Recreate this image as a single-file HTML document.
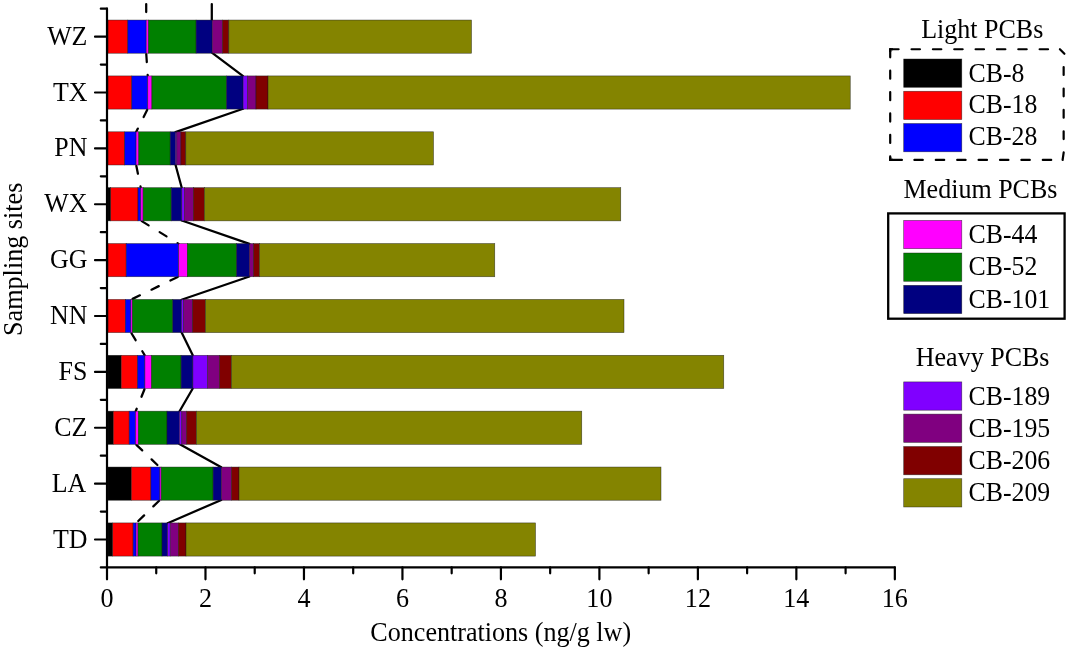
<!DOCTYPE html>
<html lang="en"><head><meta charset="utf-8"><title>PCB concentrations by sampling site</title>
<style>html,body{margin:0;padding:0;background:#fff}body{width:1068px;height:650px;overflow:hidden}svg{display:block}text{font-family:"Liberation Serif","Times New Roman",serif;font-size:26.1px;fill:#000}</style>
</head><body>
<svg width="1068" height="650" viewBox="0 0 1068 650">
<rect width="1068" height="650" fill="#ffffff"/>
<g fill="none" stroke="#000" stroke-width="2.25" stroke-linecap="round">
<line x1="146.20" y1="2.9" x2="146.20" y2="20.34" stroke-dasharray="8.1 12.9" stroke-dashoffset="-1.1"/>
<line x1="211.80" y1="4.0" x2="211.80" y2="20.34"/>
<line x1="146.20" y1="52.94" x2="147.75" y2="76.21" stroke-dasharray="8.1 12.9" stroke-dashoffset="-1.1"/>
<line x1="212.20" y1="52.94" x2="243.10" y2="76.21"/>
<line x1="147.75" y1="108.81" x2="136.10" y2="132.09" stroke-dasharray="8.1 12.9" stroke-dashoffset="-1.1"/>
<line x1="243.10" y1="108.81" x2="175.50" y2="132.09"/>
<line x1="136.10" y1="164.69" x2="140.80" y2="187.96" stroke-dasharray="8.1 12.9" stroke-dashoffset="-1.1"/>
<line x1="175.50" y1="164.69" x2="181.80" y2="187.96"/>
<line x1="140.80" y1="220.56" x2="178.65" y2="243.84" stroke-dasharray="8.1 12.9" stroke-dashoffset="-1.1"/>
<line x1="181.80" y1="220.56" x2="249.40" y2="243.84"/>
<line x1="178.65" y1="276.44" x2="130.90" y2="299.71" stroke-dasharray="8.1 12.9" stroke-dashoffset="-1.1"/>
<line x1="249.40" y1="276.44" x2="181.50" y2="299.71"/>
<line x1="130.90" y1="332.31" x2="144.90" y2="355.59" stroke-dasharray="8.1 12.9" stroke-dashoffset="-1.1"/>
<line x1="181.50" y1="332.31" x2="192.90" y2="355.59"/>
<line x1="144.90" y1="388.19" x2="135.60" y2="411.46" stroke-dasharray="8.1 12.9" stroke-dashoffset="-1.1"/>
<line x1="192.90" y1="388.19" x2="179.40" y2="411.46"/>
<line x1="135.60" y1="444.06" x2="159.90" y2="467.34" stroke-dasharray="8.1 12.9" stroke-dashoffset="-1.1"/>
<line x1="179.40" y1="444.06" x2="221.30" y2="467.34"/>
<line x1="159.90" y1="499.94" x2="136.10" y2="523.21" stroke-dasharray="8.1 12.9" stroke-dashoffset="-1.1"/>
<line x1="221.30" y1="499.94" x2="167.60" y2="523.21"/>
</g>
<g stroke="#1a1a1a" stroke-opacity="0.7" stroke-width="0.6">
<rect x="108.00" y="20.04" width="19.80" height="33.20" fill="#ff0000"/>
<rect x="127.80" y="20.04" width="18.40" height="33.20" fill="#0000ff"/>
<rect x="146.20" y="20.04" width="2.40" height="33.20" fill="#ff00ff"/>
<rect x="148.60" y="20.04" width="47.50" height="33.20" fill="#008000"/>
<rect x="196.10" y="20.04" width="16.10" height="33.20" fill="#000080"/>
<rect x="212.20" y="20.04" width="10.30" height="33.20" fill="#800080"/>
<rect x="222.50" y="20.04" width="6.30" height="33.20" fill="#800000"/>
<rect x="228.80" y="20.04" width="242.70" height="33.20" fill="#848400"/>
<rect x="108.00" y="75.91" width="23.80" height="33.20" fill="#ff0000"/>
<rect x="131.80" y="75.91" width="15.95" height="33.20" fill="#0000ff"/>
<rect x="147.75" y="75.91" width="4.15" height="33.20" fill="#ff00ff"/>
<rect x="151.90" y="75.91" width="74.70" height="33.20" fill="#008000"/>
<rect x="226.60" y="75.91" width="16.50" height="33.20" fill="#000080"/>
<rect x="243.10" y="75.91" width="4.50" height="33.20" fill="#8000ff"/>
<rect x="247.60" y="75.91" width="8.40" height="33.20" fill="#800080"/>
<rect x="256.00" y="75.91" width="12.00" height="33.20" fill="#800000"/>
<rect x="268.00" y="75.91" width="582.25" height="33.20" fill="#848400"/>
<rect x="108.00" y="131.79" width="16.70" height="33.20" fill="#ff0000"/>
<rect x="124.70" y="131.79" width="11.40" height="33.20" fill="#0000ff"/>
<rect x="136.10" y="131.79" width="2.70" height="33.20" fill="#ff00ff"/>
<rect x="138.80" y="131.79" width="31.40" height="33.20" fill="#008000"/>
<rect x="170.20" y="131.79" width="5.30" height="33.20" fill="#000080"/>
<rect x="175.50" y="131.79" width="1.30" height="33.20" fill="#8000ff"/>
<rect x="176.80" y="131.79" width="4.10" height="33.20" fill="#800080"/>
<rect x="180.90" y="131.79" width="4.90" height="33.20" fill="#800000"/>
<rect x="185.80" y="131.79" width="247.70" height="33.20" fill="#848400"/>
<rect x="108.00" y="187.66" width="2.70" height="33.20" fill="#000000"/>
<rect x="110.70" y="187.66" width="27.30" height="33.20" fill="#ff0000"/>
<rect x="138.00" y="187.66" width="2.80" height="33.20" fill="#0000ff"/>
<rect x="140.80" y="187.66" width="2.30" height="33.20" fill="#ff00ff"/>
<rect x="143.10" y="187.66" width="28.10" height="33.20" fill="#008000"/>
<rect x="171.20" y="187.66" width="10.60" height="33.20" fill="#000080"/>
<rect x="181.80" y="187.66" width="2.50" height="33.20" fill="#8000ff"/>
<rect x="184.30" y="187.66" width="9.10" height="33.20" fill="#800080"/>
<rect x="193.40" y="187.66" width="10.90" height="33.20" fill="#800000"/>
<rect x="204.30" y="187.66" width="416.45" height="33.20" fill="#848400"/>
<rect x="108.00" y="243.54" width="18.20" height="33.20" fill="#ff0000"/>
<rect x="126.20" y="243.54" width="52.45" height="33.20" fill="#0000ff"/>
<rect x="178.65" y="243.54" width="8.65" height="33.20" fill="#ff00ff"/>
<rect x="187.30" y="243.54" width="49.40" height="33.20" fill="#008000"/>
<rect x="236.70" y="243.54" width="12.70" height="33.20" fill="#000080"/>
<rect x="249.40" y="243.54" width="4.20" height="33.20" fill="#800080"/>
<rect x="253.60" y="243.54" width="5.80" height="33.20" fill="#800000"/>
<rect x="259.40" y="243.54" width="235.35" height="33.20" fill="#848400"/>
<rect x="108.00" y="299.41" width="17.30" height="33.20" fill="#ff0000"/>
<rect x="125.30" y="299.41" width="5.60" height="33.20" fill="#0000ff"/>
<rect x="130.90" y="299.41" width="1.50" height="33.20" fill="#ff00ff"/>
<rect x="132.40" y="299.41" width="40.40" height="33.20" fill="#008000"/>
<rect x="172.80" y="299.41" width="8.70" height="33.20" fill="#000080"/>
<rect x="181.50" y="299.41" width="2.20" height="33.20" fill="#8000ff"/>
<rect x="183.70" y="299.41" width="9.00" height="33.20" fill="#800080"/>
<rect x="192.70" y="299.41" width="12.70" height="33.20" fill="#800000"/>
<rect x="205.40" y="299.41" width="418.60" height="33.20" fill="#848400"/>
<rect x="108.00" y="355.29" width="13.20" height="33.20" fill="#000000"/>
<rect x="121.20" y="355.29" width="16.30" height="33.20" fill="#ff0000"/>
<rect x="137.50" y="355.29" width="7.40" height="33.20" fill="#0000ff"/>
<rect x="144.90" y="355.29" width="6.60" height="33.20" fill="#ff00ff"/>
<rect x="151.50" y="355.29" width="29.60" height="33.20" fill="#008000"/>
<rect x="181.10" y="355.29" width="11.80" height="33.20" fill="#000080"/>
<rect x="192.90" y="355.29" width="14.60" height="33.20" fill="#8000ff"/>
<rect x="207.50" y="355.29" width="12.00" height="33.20" fill="#800080"/>
<rect x="219.50" y="355.29" width="11.80" height="33.20" fill="#800000"/>
<rect x="231.30" y="355.29" width="492.45" height="33.20" fill="#848400"/>
<rect x="108.00" y="411.16" width="5.30" height="33.20" fill="#000000"/>
<rect x="113.30" y="411.16" width="15.90" height="33.20" fill="#ff0000"/>
<rect x="129.20" y="411.16" width="6.40" height="33.20" fill="#0000ff"/>
<rect x="135.60" y="411.16" width="2.80" height="33.20" fill="#ff00ff"/>
<rect x="138.40" y="411.16" width="28.60" height="33.20" fill="#008000"/>
<rect x="167.00" y="411.16" width="12.40" height="33.20" fill="#000080"/>
<rect x="179.40" y="411.16" width="2.40" height="33.20" fill="#8000ff"/>
<rect x="181.80" y="411.16" width="4.70" height="33.20" fill="#800080"/>
<rect x="186.50" y="411.16" width="9.90" height="33.20" fill="#800000"/>
<rect x="196.40" y="411.16" width="385.35" height="33.20" fill="#848400"/>
<rect x="108.00" y="467.04" width="23.30" height="33.20" fill="#000000"/>
<rect x="131.30" y="467.04" width="19.60" height="33.20" fill="#ff0000"/>
<rect x="150.90" y="467.04" width="9.00" height="33.20" fill="#0000ff"/>
<rect x="159.90" y="467.04" width="1.30" height="33.20" fill="#ff00ff"/>
<rect x="161.20" y="467.04" width="51.90" height="33.20" fill="#008000"/>
<rect x="213.10" y="467.04" width="8.20" height="33.20" fill="#000080"/>
<rect x="221.30" y="467.04" width="10.20" height="33.20" fill="#800080"/>
<rect x="231.50" y="467.04" width="7.50" height="33.20" fill="#800000"/>
<rect x="239.00" y="467.04" width="422.00" height="33.20" fill="#848400"/>
<rect x="108.00" y="522.91" width="4.70" height="33.20" fill="#000000"/>
<rect x="112.70" y="522.91" width="20.40" height="33.20" fill="#ff0000"/>
<rect x="133.10" y="522.91" width="3.00" height="33.20" fill="#0000ff"/>
<rect x="136.10" y="522.91" width="1.90" height="33.20" fill="#ff00ff"/>
<rect x="138.00" y="522.91" width="24.00" height="33.20" fill="#008000"/>
<rect x="162.00" y="522.91" width="5.60" height="33.20" fill="#000080"/>
<rect x="167.60" y="522.91" width="2.60" height="33.20" fill="#8000ff"/>
<rect x="170.20" y="522.91" width="8.10" height="33.20" fill="#800080"/>
<rect x="178.30" y="522.91" width="7.70" height="33.20" fill="#800000"/>
<rect x="186.00" y="522.91" width="349.50" height="33.20" fill="#848400"/>
</g>
<g fill="none" stroke="#000" stroke-width="2.2" stroke-linecap="round">
<path d="M107.00 8.70 V567.45"/>
<path d="M107.00 567.45 H894.84"/>
<path d="M107.00 36.64 H95.00 M107.00 92.51 H95.00 M107.00 148.39 H95.00 M107.00 204.26 H95.00 M107.00 260.14 H95.00 M107.00 316.01 H95.00 M107.00 371.89 H95.00 M107.00 427.76 H95.00 M107.00 483.64 H95.00 M107.00 539.51 H95.00 M107.00 8.70 H100.80 M107.00 64.58 H100.80 M107.00 120.45 H100.80 M107.00 176.32 H100.80 M107.00 232.20 H100.80 M107.00 288.07 H100.80 M107.00 343.95 H100.80 M107.00 399.82 H100.80 M107.00 455.70 H100.80 M107.00 511.57 H100.80 M107.00 567.45 H100.80 M107.00 567.45 V579.30 M156.24 567.45 V573.30 M205.48 567.45 V579.30 M254.72 567.45 V573.30 M303.96 567.45 V579.30 M353.20 567.45 V573.30 M402.44 567.45 V579.30 M451.68 567.45 V573.30 M500.92 567.45 V579.30 M550.16 567.45 V573.30 M599.40 567.45 V579.30 M648.64 567.45 V573.30 M697.88 567.45 V579.30 M747.12 567.45 V573.30 M796.36 567.45 V579.30 M845.60 567.45 V573.30 M894.84 567.45 V579.30"/>
</g>
<g text-anchor="end">
<text transform="translate(87.4 44.64) scale(0.992 1.026)">WZ</text>
<text transform="translate(87.4 100.51) scale(0.992 1.026)">TX</text>
<text transform="translate(87.4 156.39) scale(0.992 1.026)">PN</text>
<text transform="translate(87.4 212.26) scale(0.992 1.026)">WX</text>
<text transform="translate(87.4 268.14) scale(0.992 1.026)">GG</text>
<text transform="translate(87.4 324.01) scale(0.992 1.026)">NN</text>
<text transform="translate(87.4 379.89) scale(0.992 1.026)">FS</text>
<text transform="translate(87.4 435.76) scale(0.992 1.026)">CZ</text>
<text transform="translate(86.3 491.64) scale(0.992 1.026)">LA</text>
<text transform="translate(87.4 547.51) scale(0.992 1.026)">TD</text>
</g>
<g text-anchor="middle">
<text transform="translate(107.00 607.0) scale(1 1.06)">0</text>
<text transform="translate(205.48 607.0) scale(1 1.06)">2</text>
<text transform="translate(303.96 607.0) scale(1 1.06)">4</text>
<text transform="translate(402.44 607.0) scale(1 1.06)">6</text>
<text transform="translate(500.92 607.0) scale(1 1.06)">8</text>
<text transform="translate(599.40 607.0) scale(1 1.06)">10</text>
<text transform="translate(697.88 607.0) scale(1 1.06)">12</text>
<text transform="translate(796.36 607.0) scale(1 1.06)">14</text>
<text transform="translate(894.84 607.0) scale(1 1.06)">16</text>
<text transform="translate(500.7 640.6) scale(1 1.025)">Concentrations (ng/g lw)</text>
<text transform="translate(22.2 259.3) rotate(-90) scale(1.003 1.085)">Sampling sites</text>
</g>
<g>
<text transform="translate(921.2 38) scale(0.997 1.025)">Light PCBs</text>
<text transform="translate(903.5 197.7) scale(0.997 1.025)">Medium PCBs</text>
<text transform="translate(915.8 366.3) scale(0.997 1.025)">Heavy PCBs</text>
</g>
<g stroke="#1a1a1a" stroke-opacity="0.7" stroke-width="0.6">
<rect x="903.7" y="59.00" width="58.1" height="28.3" fill="#000000"/>
<rect x="903.7" y="91.25" width="58.1" height="28.3" fill="#ff0000"/>
<rect x="903.7" y="123.50" width="58.1" height="28.3" fill="#0000ff"/>
<rect x="903.7" y="220.40" width="58.1" height="28.3" fill="#ff00ff"/>
<rect x="903.7" y="253.00" width="58.1" height="28.3" fill="#008000"/>
<rect x="903.7" y="285.30" width="58.1" height="28.3" fill="#000080"/>
<rect x="903.7" y="381.90" width="58.1" height="28.3" fill="#8000ff"/>
<rect x="903.7" y="414.10" width="58.1" height="28.3" fill="#800080"/>
<rect x="903.7" y="446.50" width="58.1" height="28.3" fill="#800000"/>
<rect x="903.7" y="478.70" width="58.1" height="28.3" fill="#848400"/>
</g>
<g>
<text transform="translate(968.6 81.70) scale(0.988 1.048)">CB-8</text>
<text transform="translate(968.6 113.45) scale(0.988 1.048)">CB-18</text>
<text transform="translate(968.6 145.45) scale(0.988 1.048)">CB-28</text>
<text transform="translate(968.6 243.05) scale(0.988 1.048)">CB-44</text>
<text transform="translate(968.6 275.25) scale(0.988 1.048)">CB-52</text>
<text transform="translate(968.6 307.95) scale(0.988 1.048)">CB-101</text>
<text transform="translate(968.6 404.55) scale(0.988 1.048)">CB-189</text>
<text transform="translate(968.6 437.05) scale(0.988 1.048)">CB-195</text>
<text transform="translate(968.6 469.15) scale(0.988 1.048)">CB-206</text>
<text transform="translate(968.6 501.35) scale(0.988 1.048)">CB-209</text>
</g>
<rect x="888.2" y="213.4" width="176.4" height="105.3" fill="none" stroke="#000" stroke-width="2.3"/>
<g fill="none" stroke="#000" stroke-width="2.2" stroke-linecap="round" stroke-linejoin="miter">
<path d="M890.2 49.25 H1059.8" stroke-dasharray="8.4 12.95"/>
<path d="M1059.9 49.2 L1064.4 53.8"/>
<path d="M890.2 49.25 V159.9" stroke-dasharray="8.1 13.3"/>
<path d="M890.2 159.9 H901.9"/>
<path d="M914.4 159.9 H1055" stroke-dasharray="8.4 13"/>
<path d="M1063.65 67.1 V145" stroke-dasharray="7.8 13.6"/>
<path d="M1063.7 152.4 L1062.6 160"/>
<path d="M890.2 52 V49.25 H893 M890.2 157 V159.9 H893" stroke-linecap="butt"/>
</g>
</svg></body></html>
